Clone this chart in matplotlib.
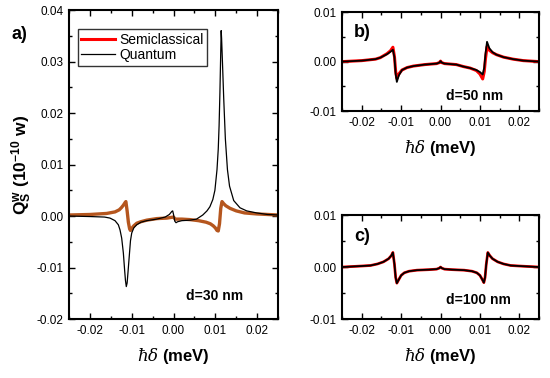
import matplotlib
matplotlib.use("Agg")
import matplotlib.pyplot as plt
from matplotlib.lines import Line2D
from matplotlib.ticker import MultipleLocator, FormatStrFormatter

plt.rcParams['font.family'] = ['Liberation Sans', 'DejaVu Sans']
plt.rcParams['mathtext.fontset'] = 'custom'
plt.rcParams['mathtext.rm'] = 'Liberation Sans:bold'
plt.rcParams['mathtext.bf'] = 'Liberation Sans:bold'
plt.rcParams['mathtext.it'] = 'Liberation Sans:bold:italic'

# ---- panel a (d=30 nm) ----
xa_semi = [-0.025, -0.020, -0.016, -0.014, -0.013, -0.0125, -0.012, -0.0116, -0.0114,
           -0.0111, -0.0108, -0.0105, -0.0103, -0.0100, -0.0095, -0.0088, -0.0078,
           -0.0064, -0.004, -0.0016, 0.0, 0.0004, 0.002, 0.004, 0.006, 0.0078, 0.0088,
           0.0095, 0.0100, 0.0104, 0.0107, 0.0110, 0.0113, 0.0116, 0.0120, 0.0125,
           0.0135, 0.0150, 0.0170, 0.020, 0.025]
ya_semi = [0.0002, 0.0003, 0.0005, 0.0008, 0.0012, 0.0016, 0.0021, 0.0026, 0.0028,
           0.0010, -0.0012, -0.0025, -0.0028, -0.0024, -0.0019, -0.0014, -0.0011,
           -0.0008, -0.0005, -0.0004, -0.0002, -0.0006, -0.0006, -0.0007, -0.0009,
           -0.0012, -0.0015, -0.0019, -0.0023, -0.0028, -0.0029, -0.0015, 0.0015,
           0.0028, 0.0024, 0.0020, 0.0015, 0.0010, 0.0006, 0.0004, 0.0002]

xa_quant = [-0.025, -0.020, -0.0165, -0.0152, -0.0140, -0.0132, -0.0128, -0.0124, -0.0120,
            -0.0117, -0.0115, -0.0113, -0.0111, -0.0109, -0.0106, -0.0103, -0.0100,
            -0.0095, -0.0088, -0.0078, -0.0064, -0.004, -0.002, -0.0010, -0.0004,
            -0.0002, 0.0000, 0.0003, 0.0006, 0.0010, 0.002, 0.004, 0.0055, 0.0070,
            0.0080, 0.0087, 0.0094, 0.0099, 0.0104, 0.0107, 0.0109, 0.0111, 0.0113,
            0.0114, 0.0115, 0.0117, 0.0120, 0.0124, 0.0129, 0.0134, 0.0144, 0.0159,
            0.0175, 0.0199, 0.0225, 0.025]
ya_quant = [0.0, -0.0001, -0.0002, -0.0004, -0.0009, -0.0017, -0.0027, -0.0043, -0.0072,
            -0.0105, -0.0125, -0.0137, -0.0130, -0.0110, -0.0079, -0.0048, -0.0033,
            -0.0023, -0.0017, -0.0012, -0.0009, -0.0006, -0.0002, 0.0003, 0.0009,
            0.0010, 0.0003, -0.0010, -0.0013, -0.0011, -0.0009, -0.0008, -0.0006,
            0.0002, 0.0010, 0.0018, 0.0032, 0.0050, 0.0090, 0.0130, 0.0175, 0.0240,
            0.0320, 0.0360, 0.0345, 0.0300, 0.0230, 0.0150, 0.0090, 0.0058, 0.0030,
            0.0016, 0.0010, 0.0006, 0.0003, 0.0002]

# ---- panel b (d=50 nm) ----
xb = [-0.025, -0.020, -0.0165, -0.0153, -0.0136, -0.0127, -0.0121, -0.0117, -0.0114,
      -0.0111, -0.0106, -0.0098, -0.0085, -0.0069, -0.004, -0.001, -0.0003, 0.0,
      0.0003, 0.001, 0.004, 0.0058, 0.0075, 0.0091, 0.0100, 0.0107, 0.0111, 0.0114,
      0.0118, 0.0124, 0.0132, 0.0142, 0.0160, 0.0184, 0.0210, 0.025]
yb_semi = [0.0, 0.0002, 0.0005, 0.0008, 0.0016, 0.0022, 0.0029, 0.0010, -0.0020,
           -0.0034, -0.0025, -0.0017, -0.0012, -0.0009, -0.0006, -0.0004, -0.0002,
           0.0001, -0.0002, -0.0004, -0.0006, -0.0010, -0.0013, -0.0018, -0.0025,
           -0.0035, -0.0020, 0.0005, 0.0030, 0.0023, 0.0018, 0.0014, 0.0009, 0.0005,
           0.0002, 0.0]
yb_quant = [0.0, 0.0002, 0.0005, 0.0008, 0.0015, 0.0020, 0.0024, 0.0008, -0.0025,
            -0.0041, -0.0028, -0.0017, -0.0012, -0.0009, -0.0006, -0.0004, -0.0002,
            0.0001, -0.0002, -0.0004, -0.0006, -0.0010, -0.0013, -0.0017, -0.0021,
            -0.0026, -0.0012, 0.0015, 0.0040, 0.0027, 0.0019, 0.0014, 0.0009, 0.0005,
            0.0002, 0.0]

# ---- panel c (d=100 nm) ----
xc = [-0.025, -0.020, -0.0178, -0.0160, -0.0145, -0.0132, -0.0125, -0.0121, -0.0117,
      -0.0114, -0.0111, -0.0106, -0.0100, -0.0092, -0.0080, -0.0060, -0.003, -0.001,
      -0.0003, 0.0, 0.0003, 0.001, 0.003, 0.006, 0.0080, 0.0092, 0.0100, 0.0106,
      0.0110, 0.0113, 0.0116, 0.0120, 0.0125, 0.0132, 0.0145, 0.0160, 0.0178,
      0.020, 0.025]
yc_semi = [0.0, 0.0002, 0.0003, 0.0006, 0.0010, 0.0016, 0.0022, 0.0028, 0.0005,
           -0.0020, -0.0031, -0.0024, -0.0016, -0.0011, -0.0008, -0.0006, -0.0005,
           -0.0004, -0.0002, 0.0000, -0.0002, -0.0004, -0.0005, -0.0006, -0.0008,
           -0.0011, -0.0016, -0.0024, -0.0030, -0.0020, 0.0005, 0.0028, 0.0022,
           0.0016, 0.0010, 0.0006, 0.0003, 0.0002, 0.0]
yc_quant = yc_semi

xticks = [-0.02, -0.01, 0.00, 0.01, 0.02]
xlabel = r'$\hbar\delta$ (meV)'


def style_axes(ax, ymaj):
    ax.set_xlim(-0.025, 0.025)
    ax.set_xticks(xticks)
    ax.xaxis.set_minor_locator(MultipleLocator(0.005))
    ax.yaxis.set_major_locator(MultipleLocator(ymaj))
    ax.yaxis.set_minor_locator(MultipleLocator(ymaj / 2))
    ax.xaxis.set_major_formatter(FormatStrFormatter('%.2f'))
    ax.yaxis.set_major_formatter(FormatStrFormatter('%.2f'))
    ax.tick_params(which='both', direction='in', top=True, right=True,
                   labelsize=8.5, width=1.0)
    ax.tick_params(which='major', length=4, pad=4)
    ax.tick_params(which='minor', length=2.5)
    for sp in ax.spines.values():
        sp.set_linewidth(1.5)
        sp.set_color('black')
    ax.set_xlabel(xlabel, fontsize=12, fontweight='bold', labelpad=7,
                  math_fontfamily='dejavuserif')


fig = plt.figure(figsize=(5.5, 3.78), dpi=100)
ax_a = fig.add_axes([0.1255, 0.156, 0.38, 0.8175])
ax_b = fig.add_axes([0.622, 0.706, 0.358, 0.262])
ax_c = fig.add_axes([0.622, 0.156, 0.358, 0.275])

# panel a
ax_a.plot(xa_semi, ya_semi, color='#b5561e', lw=2.4)
ax_a.plot(xa_quant, ya_quant, color='black', lw=0.9)
ax_a.set_ylim(-0.02, 0.04)
style_axes(ax_a, 0.01)
ax_a.set_ylabel(r'$\mathbf{Q_S^w}$ (10$^{\mathbf{-10}}$ w)', fontsize=12.5,
                fontweight='bold', labelpad=2)
handles = [Line2D([], [], color='red', lw=2.2), Line2D([], [], color='black', lw=0.9)]
ax_a.legend(handles, ['Semiclassical', 'Quantum'], loc='upper left', fontsize=10,
            bbox_to_anchor=(0.043, 0.938), borderaxespad=0.0,
            frameon=True, fancybox=False, edgecolor='black', handlelength=2.4,
            borderpad=0.25, labelspacing=0.1, handletextpad=0.3)
ax_a.text(0.56, 0.075, 'd=30 nm', transform=ax_a.transAxes, fontsize=10,
          fontweight='bold', va='center')
fig.text(0.02, 0.91, 'a)', fontsize=13, fontweight='bold', va='center')

# panel b
ax_b.plot(xb, yb_semi, color='red', lw=2.2)
ax_b.plot(xb, yb_quant, color='black', lw=1.3)
ax_b.set_ylim(-0.01, 0.01)
style_axes(ax_b, 0.01)
ax_b.text(0.06, 0.79, 'b)', transform=ax_b.transAxes, fontsize=13,
          fontweight='bold', va='center')
ax_b.text(0.53, 0.15, 'd=50 nm', transform=ax_b.transAxes, fontsize=10,
          fontweight='bold', va='center')

# panel c
ax_c.plot(xc, yc_semi, color='red', lw=2.0)
ax_c.plot(xc, yc_quant, color='black', lw=1.3)
ax_c.set_ylim(-0.01, 0.01)
style_axes(ax_c, 0.01)
ax_c.text(0.06, 0.79, 'c)', transform=ax_c.transAxes, fontsize=13,
          fontweight='bold', va='center')
ax_c.text(0.53, 0.18, 'd=100 nm', transform=ax_c.transAxes, fontsize=10,
          fontweight='bold', va='center')

fig.savefig('out.png', dpi=100)
